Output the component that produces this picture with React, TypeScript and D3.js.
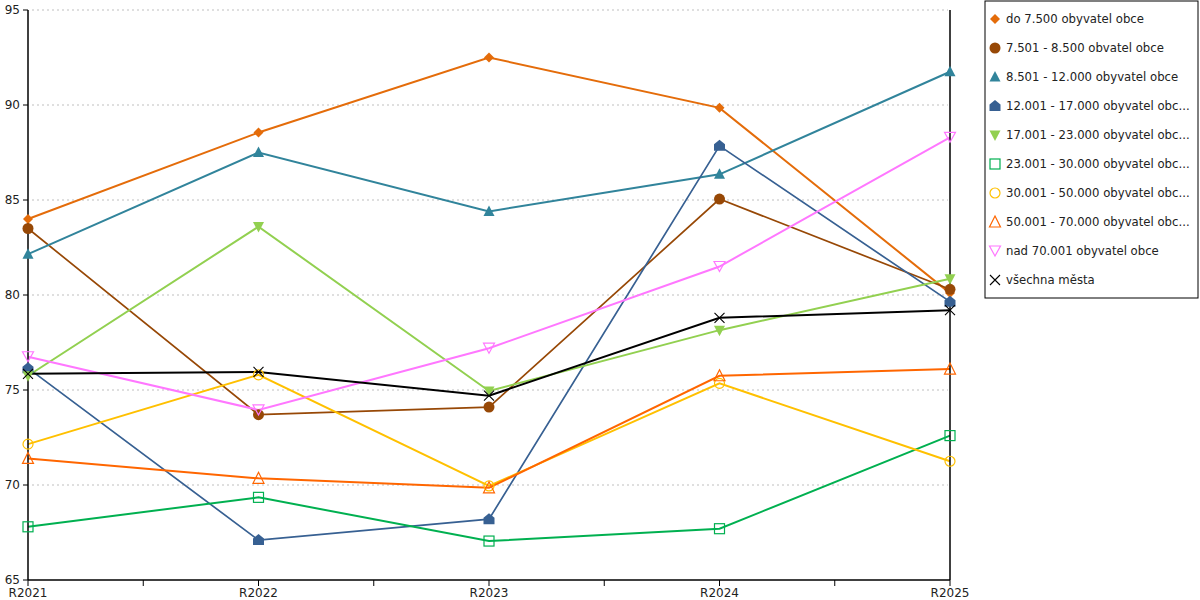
import * as d3 from 'd3';

const years = ['R2021', 'R2022', 'R2023', 'R2024', 'R2025'];
const yTicks = [65, 70, 75, 80, 85, 90, 95];

const seriesNames = [
    'do 7.500 obyvatel obce',
    '7.501 - 8.500 obvatel obce',
    '8.501 - 12.000 obyvatel obce',
    '12.001 - 17.000 obyvatel obc...',
    '17.001 - 23.000 obyvatel obc...',
    '23.001 - 30.000 obyvatel obc...',
    '30.001 - 50.000 obyvatel obc...',
    '50.001 - 70.000 obyvatel obc...',
    'nad 70.001 obyvatel obce',
    'všechna města',
];

const do7500 = [84.0, 88.55, 92.5, 89.85, 80.1];
const s7501 = [83.5, 73.7, 74.1, 85.05, 80.3];
const s8501 = [82.15, 87.5, 84.4, 86.35, 91.75];
const s12001 = [76.15, 67.1, 68.2, 87.85, 79.65];
const s17001 = [75.75, 83.6, 74.95, 78.15, 80.85];
const s23001 = [67.8, 69.35, 67.05, 67.7, 72.6];
const s30001 = [72.15, 75.8, 69.95, 75.35, 71.25];
const s50001 = [71.4, 70.35, 69.85, 75.75, 76.1];
const nad70001 = [76.75, 73.95, 77.2, 81.5, 88.3];
const vsechna = [75.85, 75.95, 74.7, 78.8, 79.2];

const seriesValues = [do7500, s7501, s8501, s12001, s17001, s23001, s30001, s50001, nad70001, vsechna];

const colors = ['#E46C0A', '#974806', '#31849B', '#376092', '#92D050', '#00B050', '#FFC000', '#FF6600', '#FF77FF', '#000000'];
const markers = ['diamond', 'circle', 'triangle', 'house', 'triangleDown', 'square', 'circleOpen', 'triangleOpen', 'triangleDownOpen', 'x'];

const width = 1200;
const height = 600;
const margins = { top: 10, bottom: 20, left: 28, right: 250 };
const fontFamily = 'Tahoma, "DejaVu Sans", Verdana, sans-serif';

function Marker({ kind, x, y, color }: { kind: string; x: number; y: number; color: string }) {
    const t = `translate(${x},${y})`;
    switch (kind) {
        case 'diamond':
            return <path transform={t} d="M0,-5L5,0L0,5L-5,0Z" fill={color} />;
        case 'circle':
            return <circle cx={x} cy={y} r={5.5} fill={color} />;
        case 'triangle':
            return <path transform={t} d="M0,-6L5.5,4.5L-5.5,4.5Z" fill={color} />;
        case 'house':
            return <path transform={t} d="M0,-6L5.5,-1.5L5.5,5L-5.5,5L-5.5,-1.5Z" fill={color} />;
        case 'triangleDown':
            return <path transform={t} d="M0,6L5.5,-4.5L-5.5,-4.5Z" fill={color} />;
        case 'square':
            return <rect x={x - 5} y={y - 5} width={10} height={10} fill="none" stroke={color} strokeWidth={1.2} />;
        case 'circleOpen':
            return <circle cx={x} cy={y} r={5} fill="none" stroke={color} strokeWidth={1.2} />;
        case 'triangleOpen':
            return <path transform={t} d="M0,-6L5.5,5L-5.5,5Z" fill="none" stroke={color} strokeWidth={1.2} />;
        case 'triangleDownOpen':
            return <path transform={t} d="M0,5L5.5,-5L-5.5,-5Z" fill="none" stroke={color} strokeWidth={1.2} />;
        default:
            return <path transform={t} d="M-5,-5L5,5M5,-5L-5,5" fill="none" stroke={color} strokeWidth={1.1} />;
    }
}

export default function App() {
    const plotRight = width - margins.right;

    const xScale = d3.scalePoint<string>().domain(years).range([margins.left, plotRight]);

    const yScale = d3
        .scaleLinear()
        .domain([65, 95])
        .range([height - margins.bottom, margins.top]);

    const line = d3
        .line<number>()
        .x((_, i) => xScale(years[i]) as number)
        .y((d) => yScale(d));

    // ticks at each category and half way between
    const step = xScale.step();
    const xTickPos = d3.range(0, years.length * 2 - 1).map((i) => margins.left + (i * step) / 2);

    const legendX = 985;
    const legendY = 1;
    const legendRow = 29;

    return (
        <svg width={width} height={height} viewBox={`0 0 ${width} ${height}`} style={{ position: 'absolute', left: 0, top: 0, background: '#fff' }} fontFamily={fontFamily}>
            {yTicks.map((v) => (
                <g key={v}>
                    {v > 65 && (
                        <line x1={margins.left + 4} x2={plotRight - 2} y1={yScale(v)} y2={yScale(v)} stroke="#BFBFBF" strokeDasharray="2,3" />
                    )}
                    <line x1={margins.left - 5} x2={margins.left} y1={yScale(v)} y2={yScale(v)} stroke="#000" />
                    <text x={margins.left - 8} y={yScale(v)} dy="0.35em" textAnchor="end" fontSize={12} fill="#222">
                        {v}
                    </text>
                </g>
            ))}

            {seriesValues.map((vals, i) => (
                <path key={seriesNames[i]} d={line(vals) ?? ''} fill="none" stroke={colors[i]} strokeWidth={i === 1 || i === 3 ? 1.7 : 2} />
            ))}

            <line x1={margins.left} x2={margins.left} y1={margins.top} y2={height - margins.bottom} stroke="#000" strokeWidth={1.5} />
            <line x1={plotRight} x2={plotRight} y1={margins.top} y2={height - margins.bottom} stroke="#000" strokeWidth={1.5} />
            <line x1={margins.left} x2={plotRight} y1={height - margins.bottom} y2={height - margins.bottom} stroke="#000" strokeWidth={1.5} />
            {xTickPos.map((p) => (
                <line key={p} x1={p} x2={p} y1={height - margins.bottom} y2={height - margins.bottom + 6} stroke="#000" />
            ))}
            {years.map((yr) => (
                <text key={yr} x={xScale(yr)} y={height - 3} textAnchor="middle" fontSize={12} fill="#222">
                    {yr}
                </text>
            ))}

            {seriesValues.map((vals, i) => (
                <g key={`m-${i}`}>
                    {vals.map((v, j) => (
                        <Marker key={j} kind={markers[i]} x={xScale(years[j]) as number} y={yScale(v)} color={colors[i]} />
                    ))}
                </g>
            ))}

            <rect x={legendX} y={legendY} width={213} height={297} fill="#fff" stroke="#000" strokeWidth={1} />
            {seriesNames.map((name, i) => {
                const cy = legendY + 18 + i * legendRow;
                return (
                    <g key={name}>
                        <Marker kind={markers[i]} x={legendX + 10} y={cy} color={colors[i]} />
                        <text x={legendX + 21} y={cy} dy="0.35em" fontSize={11.7} fill="#222">
                            {name}
                        </text>
                    </g>
                );
            })}
        </svg>
    );
}
